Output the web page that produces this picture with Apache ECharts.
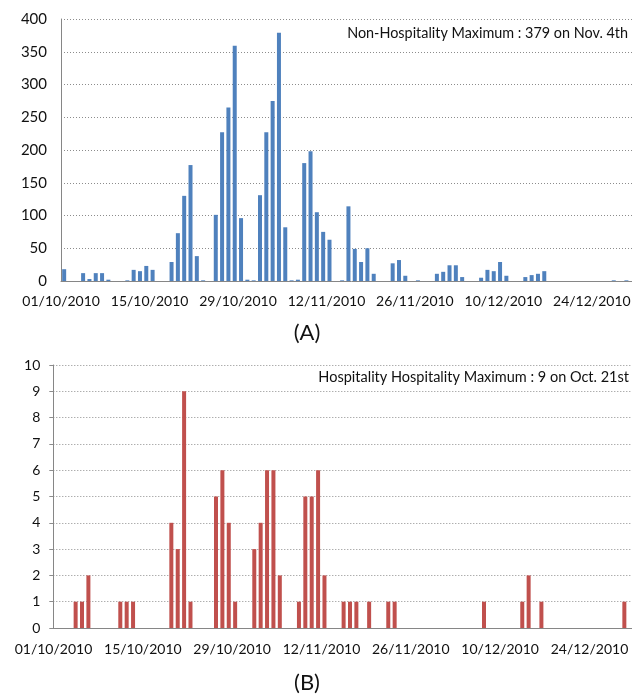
<!DOCTYPE html>
<html><head><meta charset="utf-8">
<script src="https://cdn.jsdelivr.net/npm/echarts@6/dist/echarts.min.js"></script>
<style>html,body{margin:0;padding:0;background:#fff;overflow:hidden}#c{width:660px;height:696px}</style>
</head><body><div id="c"></div>
<script>
// Daily categories: 01/10/2010 .. 31/12/2010
const startDay = [2010, 10, 1];
const dayCount = 92;
const dates = [];
for (let i = 0; i < dayCount; i++) {
  const d = new Date(Date.UTC(startDay[0], startDay[1] - 1, startDay[2] + i));
  const dd = String(d.getUTCDate()).padStart(2, '0');
  const mm = String(d.getUTCMonth() + 1).padStart(2, '0');
  dates.push(dd + '/' + mm + '/' + d.getUTCFullYear());
}

// (A) Non-hospitality daily counts
const nonHospitality = [
  18,0,0,12,3,12,12,2,0,0,
  1,17,15,23,17,0,0,29,73,130,
  177,38,1,0,101,227,265,359,96,2,
  1,131,227,275,379,82,1,2,180,198,
  105,75,63,0,1,114,49,29,50,11,
  0,0,27,32,8,0,1,0,0,11,
  14,24,24,6,0,0,5,17,15,29,
  8,0,0,6,9,11,15,0,0,0,
  0,0,0,0,0,0,0,1,0,1,
  0,0
];

// (B) Hospitality daily counts
const hospitality = [
  0,0,0,1,1,2,0,0,0,0,
  1,1,1,0,0,0,0,0,4,3,
  9,1,0,0,0,5,6,4,1,0,
  0,3,4,6,6,2,0,0,1,5,
  5,6,2,0,0,1,1,1,0,1,
  0,0,1,1,0,0,0,0,0,0,
  0,0,0,0,0,0,0,1,0,0,
  0,0,0,1,2,0,1,0,0,0,
  0,0,0,0,0,0,0,0,0,1,
  0,0
];

const topTitle = 'Non-Hospitality Maximum : 379 on Nov. 4th';
const bottomTitle = 'Hospitality Hospitality Maximum : 9 on Oct. 21st';
const panelLabels = ['(A)', '(B)'];

const FONT = 'Lato';
const axisGray = '#868686';
const gridGray = '#8c8c8c';

function xAxisCfg(gi, margin) {
  return {
    type: 'category', gridIndex: gi, data: dates, boundaryGap: true,
    axisLine: { lineStyle: { color: axisGray, width: 1 } },
    axisTick: { interval: 13, length: 4, lineStyle: { color: axisGray } },
    axisLabel: { interval: 13, margin: margin, color: '#111', fontFamily: FONT, fontSize: 14, padding: [0, 6, 0, 0] },
    splitLine: { show: false }
  };
}
function yAxisCfg(gi, max, interval, fs, margin, tick) {
  return {
    type: 'value', gridIndex: gi, min: 0, max: max, interval: interval,
    axisLine: { show: true, lineStyle: { color: axisGray } },
    axisTick: { show: tick, length: 4, lineStyle: { color: gridGray } },
    axisLabel: { margin: margin, color: '#111', fontFamily: FONT, fontSize: fs },
    splitLine: { show: true, lineStyle: { type: [1, 2], color: gridGray, width: 1 } }
  };
}

const chart = echarts.init(document.getElementById('c'), null, { renderer: 'canvas' });
chart.setOption({
  animation: false,
  backgroundColor: '#fff',
  grid: [
    { left: 61, top: 19, width: 581.2, height: 262, outerBoundsMode: 'none', containLabel: false },
    { left: 53.3, top: 365, width: 587, height: 263, outerBoundsMode: 'none', containLabel: false }
  ],
  xAxis: [xAxisCfg(0, 13), xAxisCfg(1, 14)],
  yAxis: [yAxisCfg(0, 400, 50, 15, 14, false), yAxisCfg(1, 10, 1, 14, 13, true)],
  series: [
    { type: 'bar', xAxisIndex: 0, yAxisIndex: 0, data: nonHospitality, barWidth: 4, itemStyle: { color: '#4F81BD' } },
    { type: 'bar', xAxisIndex: 1, yAxisIndex: 1, data: hospitality, barWidth: 4, itemStyle: { color: '#C0504D' } }
  ],
  graphic: [
    { type: 'text', x: 628, y: 33, style: { text: topTitle, font: '14.4px ' + FONT, fill: '#111', textAlign: 'right', textVerticalAlign: 'middle' } },
    { type: 'text', x: 629, y: 377, style: { text: bottomTitle, font: '14.5px ' + FONT, fill: '#111', textAlign: 'right', textVerticalAlign: 'middle' } },
    { type: 'text', x: 307, y: 333, style: { text: panelLabels[0], font: '22px ' + FONT, fill: '#111', textAlign: 'center', textVerticalAlign: 'middle' } },
    { type: 'text', x: 307, y: 683, style: { text: panelLabels[1], font: '22px ' + FONT, fill: '#111', textAlign: 'center', textVerticalAlign: 'middle' } }
  ]
});
</script>
</body></html>
